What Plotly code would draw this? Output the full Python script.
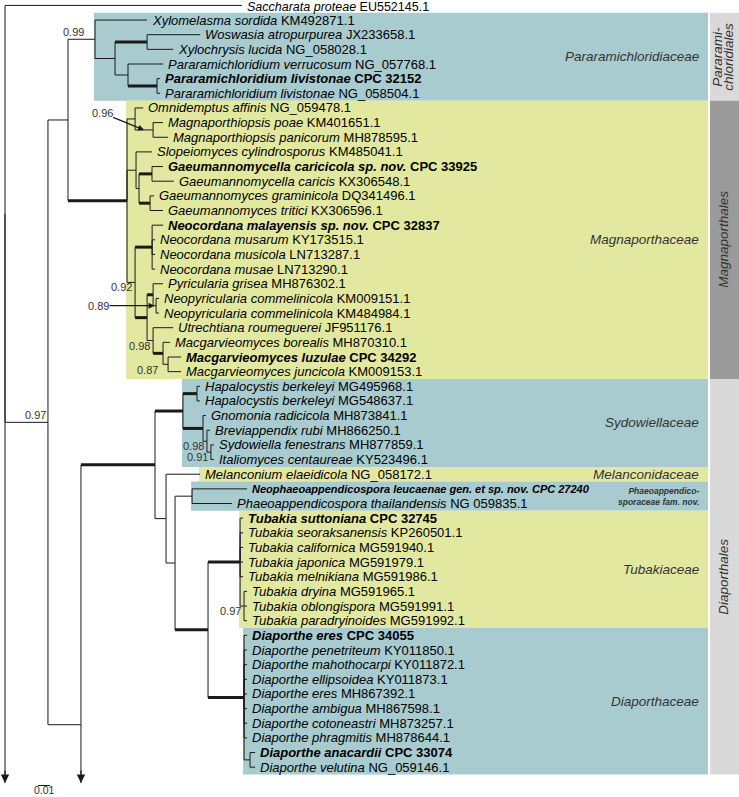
import re
import plotly.graph_objects as go

# ---------------- data ----------------
species = [
    "Saccharata proteae", "Xylomelasma sordida", "Woswasia atropurpurea", "Xylochrysis lucida",
    "Pararamichloridium verrucosum", "Pararamichloridium livistonae", "Pararamichloridium livistonae",
    "Omnidemptus affinis", "Magnaporthiopsis poae", "Magnaporthiopsis panicorum",
    "Slopeiomyces cylindrosporus", "Gaeumannomycella caricicola sp. nov.", "Gaeumannomycella caricis",
    "Gaeumannomyces graminicola", "Gaeumannomyces tritici", "Neocordana malayensis sp. nov.",
    "Neocordana musarum", "Neocordana musicola", "Neocordana musae", "Pyricularia grisea",
    "Neopyricularia commelinicola", "Neopyricularia commelinicola", "Utrechtiana roumeguerei",
    "Macgarvieomyces borealis", "Macgarvieomyces luzulae", "Macgarvieomyces juncicola",
    "Hapalocystis berkeleyi", "Hapalocystis berkeleyi", "Gnomonia radicicola", "Breviappendix rubi",
    "Sydowiella fenestrans", "Italiomyces centaureae", "Melanconium elaeidicola",
    "Neophaeoappendicospora leucaenae gen. et sp. nov.", "Phaeoappendicospora thailandensis",
    "Tubakia suttoniana", "Tubakia seoraksanensis", "Tubakia californica", "Tubakia japonica",
    "Tubakia melnikiana", "Tubakia dryina", "Tubakia oblongispora", "Tubakia paradryinoides",
    "Diaporthe eres", "Diaporthe penetriteum", "Diaporthe mahothocarpi", "Diaporthe ellipsoidea",
    "Diaporthe eres", "Diaporthe ambigua", "Diaporthe cotoneastri", "Diaporthe phragmitis",
    "Diaporthe anacardii", "Diaporthe velutina",
]
accession = [
    "EU552145.1", "KM492871.1", "JX233658.1", "NG_058028.1", "NG_057768.1", "CPC 32152", "NG_058504.1",
    "NG_059478.1", "KM401651.1", "MH878595.1", "KM485041.1", "CPC 33925", "KX306548.1",
    "DQ341496.1", "KX306596.1", "CPC 32837", "KY173515.1", "LN713287.1", "LN713290.1", "MH876302.1",
    "KM009151.1", "KM484984.1", "JF951176.1", "MH870310.1", "CPC 34292", "KM009153.1",
    "MG495968.1", "MG548637.1", "MH873841.1", "MH866250.1", "MH877859.1", "KY523496.1", "NG_058172.1",
    "CPC 27240", "NG 059835.1", "CPC 32745", "KP260501.1", "MG591940.1", "MG591979.1",
    "MG591986.1", "MG591965.1", "MG591991.1", "MG591992.1", "CPC 34055", "KY011850.1",
    "KY011872.1", "KY011873.1", "MH867392.1", "MH867598.1", "MH873257.1", "MH878644.1",
    "CPC 33074", "NG_059146.1",
]
bold_taxa = [5, 11, 15, 24, 33, 35, 43, 51]
small_taxa = [33]
outgroup_taxa = [0]

# tree (branch lengths in substitutions/site; "1" = posterior probability 1, drawn thick)
tree_newick = """
(t0:0.1975,
 ( ( (t1:0.0433,
      ((t2:0.0442,t3:0.0217)1:0.0267,
       (t4:0.0292,(t5:0.0025,t6:0.0025)1:0.0242):0.0108):0.0167
     )0.99|P:0.0225,
     ( (t7:0.0067,(t8:0.0083,t9:0.0125)0.96|MP:0.0150):0.0067,
       (t10:0.0133,((t11:0.0092,t12:0.0183)1:0.0108,(t13:0.0033,t14:0.0108)1:0.0092):0.0025):0.0075,
       ( (t15:0.0092,t16:0.0025,t17:0.0025,t18:0.0025)1:0.0142,
         ( (t19:0.0083,(t20:0.0025,t21:0.0025)0.89|NP:0.0025)1:0.0050,
           (t22:0.0167,(t23:0.0058,(t24:0.0108,t25:0.0108)0.87|LJ:0.0042)1:0.0083)0.98:0.0050
         )1:0.0100
       )0.92:0.0067
     )1:0.0492
   ):0.0167,
   ( ( ( (t26:0.0025,t27:0.0025)1:0.0117,
         (t28:0.0025,(t29:0.0025,(t30:0.0025,t31:0.0025)0.91:0.0033)0.98:0.0033)1:0.0167
       )1:0.0233,
       (t32:0.0283,
        ( (t33:0.0458,t34:0.0333):0.0142,
          ( (t35:0.0025,t36:0.0025,t37:0.0025,t38:0.0025,t39:0.0025,
             (t40:0.0025,t41:0.0025,t42:0.0025)0.97:0.0033)1:0.0267,
            (t43:0.0025,t44:0.0025,t45:0.0025,t46:0.0025,t47:0.0025,t48:0.0025,t49:0.0025,t50:0.0025,
             (t51:0.0042,t52:0.0042):0.0050)1:0.0300
          )1:0.0275
        ):0.0075
       ):0.0092
     )1:0.0617
   )|X81:0.0275
 )0.97|A:0.0358
)|root;
"""

# lineages continuing beyond the figure (arrow ends, in row units) and fixed joint rows
truncated = {"root": 53.08, "X81": 53.08}
fixed_node_y = {"X81": 49.1}

families = ["Pararamichloridiaceae", "Magnaporthaceae", "Sydowiellaceae", "Melanconidaceae",
            "Phaeoappendico-<br>sporaceae fam. nov.", "Tubakiaceae", "Diaporthaceae"]
family_first = [1, 7, 26, 32, 33, 35, 43]
family_last = [6, 25, 31, 32, 34, 42, 52]
family_fill = ["#a8cbcf", "#e3e8a0", "#a8cbcf", "#e3e8a0", "#a8cbcf", "#e3e8a0", "#a8cbcf"]

orders = ["Pararami-<br>chloridiales", "Magnaporthales", "Diaporthales"]
order_first = [1, 7, 26]
order_last = [6, 25, 52]
order_fill = ["#d9d9d9", "#9a9a9a", "#d9d9d9"]

scale_bar_length = 0.01

# ---------------- geometry helpers (styling) ----------------
XPX = 0.01 / 12.0          # data units per pixel (x)
ROW = 14.65                # pixels per row
x_range = [-5 * XPX, 734 * XPX]
y_range = [(797 - 5.4) / ROW, -5.4 / ROW]


def xpx(p):
    return x_range[0] + p * XPX


def ypx(p):
    return y_range[1] + p / ROW


FONT = "Liberation Sans, Arial, sans-serif"
LINE = "#1a1a1a"
LEAF_SIZE = 13


# ---------------- parse & layout ----------------
def parse_newick(s):
    s = re.sub(r"\s+", "", s).rstrip(";")
    pos = 0

    def read():
        nonlocal pos
        node = {"children": [], "support": "", "name": "", "length": 0.0}
        if s[pos] == "(":
            pos += 1
            while True:
                node["children"].append(read())
                ch = s[pos]
                pos += 1
                if ch == ")":
                    break
        m = re.match(r"[^:,();]*", s[pos:])
        lab = m.group(0)
        pos += len(lab)
        if "|" in lab:
            node["support"], node["name"] = lab.split("|")
        elif node["children"]:
            node["support"] = lab
        else:
            node["name"] = lab
        if pos < len(s) and s[pos] == ":":
            pos += 1
            m = re.match(r"[0-9.eE+\-]+", s[pos:])
            node["length"] = float(m.group(0))
            pos += len(m.group(0))
        return node

    return read()


root = parse_newick(tree_newick)
nodes = []


def layout(node, depth, parent):
    node["x"] = depth + node["length"]
    node["parent"] = parent
    nodes.append(node)
    if node["children"]:
        for c in node["children"]:
            layout(c, node["x"], node)
        node["y"] = fixed_node_y.get(node["name"],
                                     (node["children"][0]["y"] + node["children"][-1]["y"]) / 2)
        node["lo"] = min(c["lo"] for c in node["children"])
        node["hi"] = max(c["hi"] for c in node["children"])
    else:
        node["leaf"] = int(node["name"][1:])
        node["y"] = node["leaf"]
        node["lo"] = node["hi"] = node["leaf"]


layout(root, 0.0, None)
by_name = {n["name"]: n for n in nodes if n["name"]}


def mrca(a, b):
    cands = [n for n in nodes if n["lo"] <= a and n["hi"] >= b]
    return max(cands, key=lambda n: n["x"])


# ---------------- branches ----------------
thin_x, thin_y, thick_x, thick_y = [], [], [], []
for p in nodes:
    for c in p["children"]:
        thin_x += [p["x"], p["x"], None]
        thin_y += [p["y"], c["y"], None]
        if c["support"] == "1":
            thick_x += [p["x"], c["x"], None]
            thick_y += [c["y"], c["y"], None]
        else:
            thin_x += [p["x"], c["x"], None]
            thin_y += [c["y"], c["y"], None]

for name, yend in truncated.items():
    n = by_name[name]
    thin_x += [n["x"], n["x"], None]
    thin_y += [n["y"], yend, None]

fig = go.Figure()
fig.add_trace(go.Scatter(x=thin_x, y=thin_y, mode="lines", line=dict(color=LINE, width=1),
                         hoverinfo="skip", showlegend=False))
fig.add_trace(go.Scatter(x=thick_x, y=thick_y, mode="lines", line=dict(color=LINE, width=3),
                         hoverinfo="skip", showlegend=False))

# scale bar
sb_y = ypx(785.5)
fig.add_trace(go.Scatter(x=[xpx(38), xpx(38) + scale_bar_length], y=[sb_y, sb_y], mode="lines",
                         line=dict(color=LINE, width=1), hoverinfo="skip", showlegend=False))

shapes = []
annotations = []

# family boxes
for fam, a, b, col in zip(families, family_first, family_last, family_fill):
    left = mrca(a, b)["x"] - 1 * XPX
    shapes.append(dict(type="rect", xref="x", yref="y", x0=left, x1=xpx(708),
                       y0=a - 0.5, y1=b + 0.5, fillcolor=col, line=dict(width=0), layer="below"))
    small = "<br>" in fam
    text = f"<b><i>{fam}</i></b>" if small else f"<i>{fam}</i>"
    annotations.append(dict(x=xpx(700), y=(a + b) / 2, text=text, showarrow=False,
                            xanchor="right", yanchor="middle", align="right", borderpad=0,
                            font=dict(family=FONT, size=8.5 if small else 13.5, color="#333333")))

# order boxes (each text line placed on its own, rotated)
for od, a, b, col in zip(orders, order_first, order_last, order_fill):
    shapes.append(dict(type="rect", xref="x", yref="y", x0=xpx(710), x1=xpx(739),
                       y0=a - 0.5, y1=b + 0.5, fillcolor=col, line=dict(width=0), layer="below"))
    lines = od.split("<br>")
    centers = [724] if len(lines) == 1 else [718, 729]
    for line_txt, cx in zip(lines, centers):
        annotations.append(dict(x=xpx(cx), y=(a + b) / 2, text=f"<i>{line_txt}</i>", showarrow=False,
                                textangle=-90, xanchor="center", yanchor="middle", borderpad=0,
                                font=dict(family=FONT, size=13.5, color="#333333")))

# leaf labels
for n in nodes:
    if n["children"]:
        continue
    i = n["leaf"]
    txt = f"<i>{species[i]}</i> {accession[i]}"
    if i in bold_taxa:
        txt = f"<b>{txt}</b>"
    size = LEAF_SIZE
    yshift = 0
    if i in small_taxa:
        txt = f"<b><i>{species[i]} {accession[i]}</i></b>"
        size = 11
    if i in outgroup_taxa:
        size = 12.5
        yshift = -2
    annotations.append(dict(x=n["x"], y=n["y"], text=txt, showarrow=False, xanchor="left",
                            yanchor="middle", xshift=4, yshift=yshift, borderpad=0,
                            font=dict(family=FONT, size=size, color="#000000")))

# support values
placement = {"P": ("above", -10), "A": ("above", -1), "MP": ("arrow", -42, -17),
             "NP": ("arrow", -56, 0), "LJ": ("node", -9, 6)}
SUPFONT = dict(family=FONT, size=11, color="#333333")
for n in nodes:
    s = n["support"]
    if not s or s == "1":
        continue
    mode = placement.get(n["name"], ("node", -2, 5))
    if mode[0] == "above":
        annotations.append(dict(x=n["x"], y=n["y"], text=s, showarrow=False, xanchor="right",
                                yanchor="bottom", xshift=mode[1], yshift=0, borderpad=0,
                                font=SUPFONT))
    elif mode[0] == "node":
        annotations.append(dict(x=n["x"], y=n["y"], text=s, showarrow=False, xanchor="right",
                                yanchor="middle", xshift=mode[1], yshift=-mode[2], borderpad=0,
                                font=SUPFONT))
    else:
        p = n["parent"]
        annotations.append(dict(x=(p["x"] + n["x"]) / 2, y=n["y"], text=s, showarrow=True,
                                ax=mode[1], ay=mode[2], axref="pixel", ayref="pixel",
                                arrowhead=2, arrowsize=1, arrowwidth=1.2, arrowcolor=LINE,
                                standoff=0, borderpad=0, font=SUPFONT))

# arrows of truncated lineages
for name, yend in truncated.items():
    n = by_name[name]
    annotations.append(dict(x=n["x"], y=yend, text="", showarrow=True, ax=0, ay=-14,
                            arrowhead=2, arrowsize=1.4, arrowwidth=1.2, arrowcolor=LINE, standoff=0))

# scale bar label
annotations.append(dict(x=xpx(38) + scale_bar_length / 2, y=ypx(796.5), text="0.01",
                        showarrow=False, xanchor="center", yanchor="bottom", borderpad=0,
                        font=dict(family=FONT, size=10.5, color="#333333")))

fig.update_layout(
    width=739, height=797, margin=dict(l=0, r=0, t=0, b=0),
    paper_bgcolor="white", plot_bgcolor="white",
    xaxis=dict(range=x_range, visible=False, fixedrange=True),
    yaxis=dict(range=y_range, visible=False, fixedrange=True),
    shapes=shapes, annotations=annotations, showlegend=False,
)

fig.write_html("out.html", config={"displayModeBar": False, "staticPlot": True},
               post_script="document.body.style.margin='0';document.body.style.overflow='hidden';")
